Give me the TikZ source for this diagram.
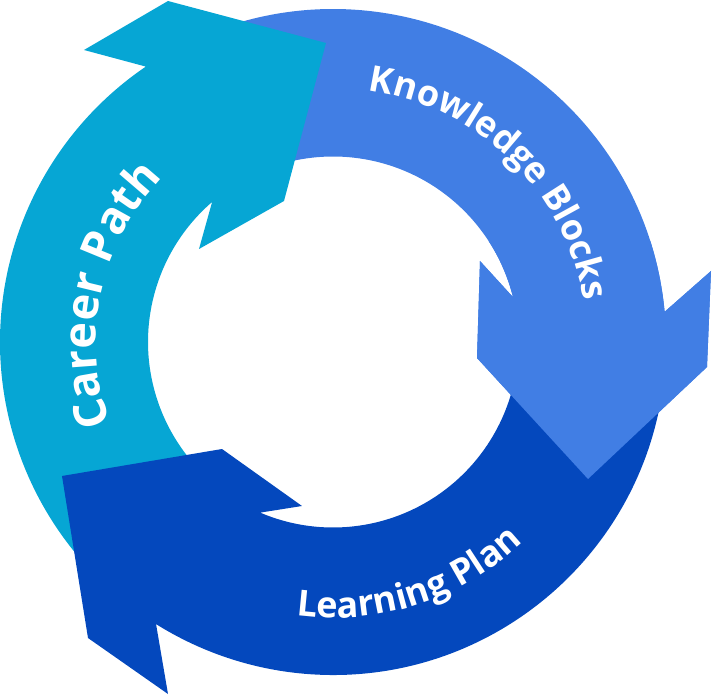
\documentclass[tikz,border=0pt]{standalone}
\usepackage{fontspec}
\setmainfont{Open Sans}
\usetikzlibrary{decorations.text}
\definecolor{kbcol}{RGB}{65,126,228}
\definecolor{cpcol}{RGB}{6,166,212}
\definecolor{lpcol}{RGB}{4,72,189}
\begin{document}
\begin{tikzpicture}[x=1pt,y=1pt,
  kbarrow/.style={fill=kbcol},
  cparrow/.style={fill=cpcol},
  lparrow/.style={fill=lpcol},
  ringtext/.style={decorate,decoration={text along path,text align=center,text color=white}}]
\useasboundingbox (-333,-354) rectangle (379,342);
% Knowledge Blocks arrow
\def\kbpath{(115:333pt) arc[start angle=115,end angle=5.2,radius=333pt] -- (378,71) -- (374,-25) -- (255,-137) -- (144,-16) -- (147,81) -- (14:185.5pt) arc[start angle=14,end angle=115,radius=185.5pt] -- cycle}
\fill[kbarrow] \kbpath;
% Career Path arrow
\fill[cparrow] (228:333pt) arc[start angle=228,end angle=124.2,radius=333pt] -- (-249,292) -- (-165,341) -- (-7,299) -- (-49,141) -- (-134,93) -- (130.8:185pt) arc[start angle=130.8,end angle=228,radius=185pt] -- cycle;
% Learning Plan arrow
\fill[lparrow] (355:333pt) arc[start angle=355,end angle=237.9,radius=333pt] -- (-165,-352) -- (-245,-296) -- (-271,-134) -- (-111,-107) -- (-31,-164) -- (246.9:185.5pt) arc[start angle=246.9,end angle=355,radius=185.5pt] -- cycle;
% Knowledge Blocks head on top of Learning Plan tail
\begin{scope}
\clip (100,-200) rectangle (400,100);
\fill[kbarrow] \kbpath;
\end{scope}
% labels
\path[ringtext,decoration={text={|\fontsize{36pt}{40pt}\bfseries\selectfont|Knowledge Blocks}}]
  (115.7:254pt) arc[start angle=115.7,end angle=-24.3,radius=254pt];
\path[ringtext,decoration={text={|\fontsize{45pt}{50pt}\bfseries\selectfont|Career Path}}]
  (238:237pt) arc[start angle=238,end angle=98,radius=237pt];
\path[ringtext,decoration={text={|\fontsize{36pt}{40pt}\bfseries\selectfont|Learning Plan}}]
  (218:276pt) arc[start angle=218,end angle=358,radius=276pt];
\end{tikzpicture}
\end{document}
